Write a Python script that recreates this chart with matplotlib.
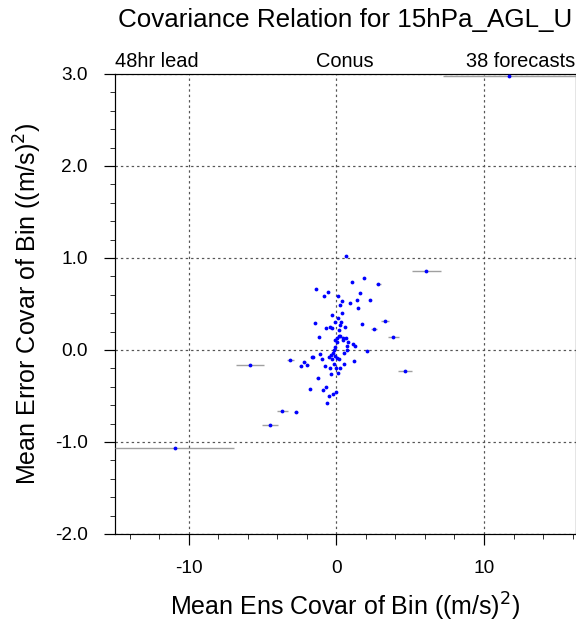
import numpy as np
import matplotlib
matplotlib.use("Agg")
import matplotlib.pyplot as plt
from matplotlib.ticker import MultipleLocator

plt.rcParams['font.family'] = ['Liberation Sans', 'DejaVu Sans']
plt.rcParams['axes.unicode_minus'] = False

# — DATA —
ens_covar = [
    -10.96, -5.86, -4.50, -3.66, -3.12, -2.74, -2.42, -2.17, -1.97, -1.63,
    -1.27, -1.79, 6.10, 4.65, 3.86, 3.30, 2.85, 2.55, 11.70,
    0.63, 1.04, 1.90, -1.36, -0.59, -0.86, 0.13, 1.58, 0.38, 1.38,
    2.28, 0.95, 0.22, 1.47, 0.41, -0.30, 0.11, -1.47, -0.07, 0.34,
    0.27, 1.74, -0.41, -0.30, -0.73, 0.16, 0.56, -1.18, 0.16, 0.27,
    0.04, 0.45, 0.65, -0.07, 0.04, 0.81, 0.47, 1.10, 1.29, 0.75,
    -0.09, -0.14, 0.70, 2.05, -1.09, -0.20, 0.49, -0.37, -1.60, -0.52,
    -0.07, 0.04, -1.00, -0.27, 0.18, 1.22, -0.18, 0.54, -0.77, -0.41,
    -0.03, 0.27, 0.11, -0.34, -0.70, -0.93, 0.00, -0.25, -0.52, -0.66,
]
err_covar = [
    -1.07, -0.16, -0.82, -0.66, -0.11, -0.67, -0.17, -0.13, -0.16, -0.08,
    -0.30, -0.42, 0.86, -0.23, 0.14, 0.31, 0.72, 0.23, 2.98,
    1.02, 0.74, 0.78, 0.66, 0.63, 0.59, 0.59, 0.62, 0.53, 0.54,
    0.54, 0.51, 0.49, 0.46, 0.40, 0.38, 0.35, 0.29, 0.30, 0.30,
    0.27, 0.28, 0.25, 0.24, 0.24, 0.22, 0.25, 0.14, 0.15, 0.15,
    0.13, 0.13, 0.13, 0.11, 0.09, 0.09, 0.11, 0.07, 0.04, 0.04,
    0.03, 0.00, 0.00, -0.01, -0.04, -0.03, -0.03, -0.05, -0.08, -0.08,
    -0.07, -0.09, -0.10, -0.10, -0.10, -0.12, -0.15, -0.15, -0.17, -0.20,
    -0.20, -0.20, -0.25, -0.26, -0.40, -0.43, -0.46, -0.48, -0.50, -0.58,
]
bin_spread = [
    4.05, 0.97, 0.53, 0.36, 0.25, 0.16, 0.12, 0.10, 0.10, 0.08,
    0.08, 0.08, 1.00, 0.50, 0.37, 0.25, 0.18, 0.20, 4.50,
] + [0.05] * 70

y_ticks = [-2.0, -1.0, 0.0, 1.0, 2.0, 3.0]

# — FIGURE —
fig = plt.figure(figsize=(8, 624 / 72), dpi=72)
ax = fig.add_axes([115 / 576, 1 - 534 / 624, 460.5 / 576, 460 / 624])

ax.errorbar(ens_covar, err_covar, xerr=bin_spread, fmt='none',
            ecolor='#a0a0a0', elinewidth=1.4, capsize=0, zorder=3)
ax.plot(ens_covar, err_covar, 'o', color='blue', ms=3.8, mew=0, zorder=4)

ax.set_xlim(-15, 16.2)
ax.set_ylim(-2.0, 3.0)

ax.xaxis.set_major_locator(MultipleLocator(10))
ax.xaxis.set_minor_locator(MultipleLocator(2))
ax.yaxis.set_minor_locator(MultipleLocator(0.2))
ax.set_yticks(y_ticks)
ax.set_yticklabels([f"{v:.1f}" for v in y_ticks])

ax.tick_params(which='major', direction='out', length=11, width=1.2,
               labelsize=19, top=False, right=False)
ax.tick_params(axis='y', which='major', pad=16)
ax.tick_params(axis='x', which='major', pad=15)
ax.tick_params(which='minor', direction='out', length=5, width=0.8,
               top=False, right=False)

ax.grid(True, which='major', color='#555555', linestyle=(0, (2, 2.5)),
        linewidth=1.2)
ax.set_axisbelow(True)
for sp in ax.spines.values():
    sp.set_linewidth(1.2)

ax.set_xlabel("Mean Ens Covar of Bin ((m/s)$^2$)", fontsize=25, va='center')
ax.xaxis.set_label_coords(0.5, (534 - 607) / 460)
ax.set_ylabel("Mean Error Covar of Bin ((m/s)$^2$)", fontsize=25, va='center')
ax.yaxis.set_label_coords((28 - 115) / 460.5, 0.5)

ax.text(0.0, 7 / 460 + 1, "48hr lead", transform=ax.transAxes, ha='left',
        va='baseline', fontsize=20)
ax.text(0.5, 7 / 460 + 1, "Conus", transform=ax.transAxes, ha='center',
        va='baseline', fontsize=20)
ax.text(1.0, 7 / 460 + 1, "38 forecasts", transform=ax.transAxes, ha='right',
        va='baseline', fontsize=20)
fig.text(345 / 576, 1 - 20 / 624, "Covariance Relation for 15hPa_AGL_U",
         ha='center', va='center', fontsize=26)

fig.savefig("out.png", dpi=72)
